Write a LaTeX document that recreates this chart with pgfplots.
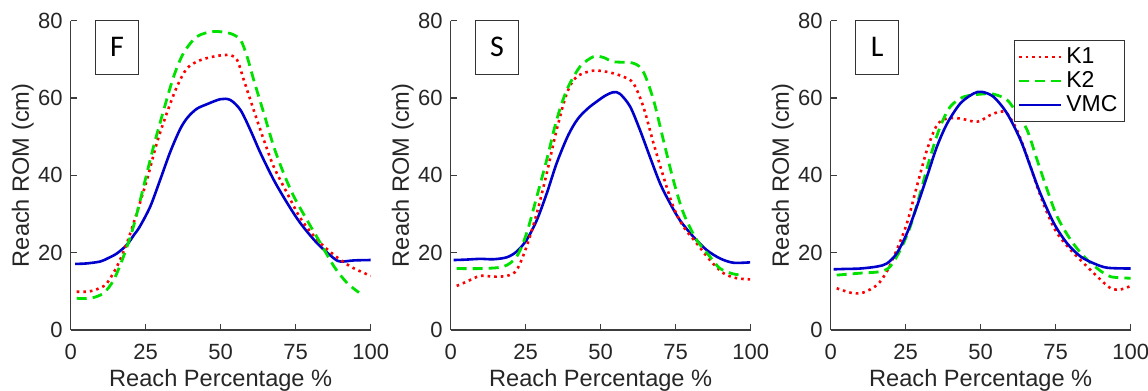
\documentclass[border=0pt]{standalone}
\usepackage{pgfplots}
\pgfplotsset{compat=1.18}
\usepackage{fontspec}
\setmainfont{Liberation Sans}
\newfontfamily\calfont{Carlito}
\definecolor{mred}{RGB}{255,0,0}
\definecolor{mgreen}{RGB}{0,225,0}
\definecolor{mblue}{RGB}{0,0,205}
\definecolor{axgray}{RGB}{60,60,60}
\pgfplotsset{
  panel/.style={
    scale only axis, width=150pt, height=154.65pt,
    anchor=south west,
    xmin=0, xmax=100, ymin=0, ymax=80,
    xtick={0,25,50,75,100}, ytick={0,20,40,60,80},
    axis x line*=bottom, axis y line*=left,
    axis line style={-, axgray, line width=0.6pt},
    tick style={axgray, line width=0.6pt},
    tick align=inside, major tick length=3pt,
    tick label style={font=\fontsize{11}{13}\selectfont, text=black!85},
    /pgf/number format/assume math mode=true,
    xticklabel style={yshift=-3.5pt},
    yticklabel style={xshift=-0.5pt},
    xlabel={Reach Percentage \%}, ylabel={Reach ROM (cm)},
    label style={font=\fontsize{11.8}{13}\selectfont, text=black!85},
    xlabel style={at={(axis description cs:0.5,-0.163)}, anchor=center},
    ylabel style={at={(axis description cs:-0.16,0.5)}, anchor=center, rotate=0},
    clip=false,
  },
  k1/.style={mred, line width=1.3pt, dotted, smooth, tension=0.5},
  k2/.style={mgreen, line width=1.4pt, dash pattern=on 5pt off 3pt, smooth, tension=0.5},
  vmc/.style={mblue, line width=1.3pt, smooth, tension=0.5},
}
\newcommand{\panellabel}[1]{\node[draw=black!80, line width=0.6pt, anchor=north west, minimum width=21.5pt, minimum height=27pt, inner sep=0pt, font=\calfont\fontsize{15}{17}\selectfont] at (axis cs:8.1,80.3) {#1};}
\begin{document}
\begin{tikzpicture}
\path[use as bounding box] (0,0) rectangle (574pt,195.5pt);
% ---------- F ----------
\begin{axis}[panel, at={(35.35pt,30.5pt)}]
\addplot[vmc] coordinates {(1.5,17.1)(5,17.2)(9.8,17.7)(12.5,18.6)(15.4,19.8)(18.7,22)(21,24.5)(23,26.7)(26.5,31.9)(29.8,38.8)(33.2,46.1)(36.5,52.0)(39,55.0)(42,57.2)(45.4,58.4)(49.9,59.7)(53.2,59.5)(56.6,56.9)(59.9,51.7)(63.3,45.7)(67.7,38.8)(72.2,32.8)(76.6,27.6)(82.2,22.4)(87.8,18.5)(90,17.7)(94.4,18.0)(100,18.1)};
\addplot[k1] coordinates {(2,9.9)(5,9.9)(7.6,10.2)(10,11)(12,12)(15.4,16.4)(18.7,22.4)(22,30.2)(25.4,38.8)(28.7,48.3)(32,56)(35.4,62.9)(38.8,67.7)(43.2,69.8)(48.8,70.9)(53.2,71.1)(55.5,69.8)(57.7,64.7)(61,56.9)(64.4,49.1)(67.7,42.2)(72.2,35.3)(76.6,28.9)(82.2,23.3)(87.8,19.4)(93.3,16.4)(100,14.0)};
\addplot[k2] coordinates {(2,8.2)(6.5,8.2)(10.9,9.5)(14.3,12.9)(17.6,19)(20.9,26.7)(24.3,37.1)(27.6,47.4)(31,56.9)(34.3,65.5)(37.6,71.6)(42.1,75.9)(47.7,77.2)(53.2,76.7)(56.6,75)(58.8,70.7)(61,64.7)(64.4,56)(67.7,47.4)(71,40.5)(74.4,34.5)(78.8,28.4)(83.3,22.4)(87.8,16.4)(92.2,12.1)(96.1,9.7)};
\panellabel{F}
\end{axis}
% ---------- S ----------
\begin{axis}[panel, at={(225.35pt,30.5pt)}]
\addplot[vmc] coordinates {(1,18.1)(5,18.2)(9.8,18.4)(14.2,18.3)(18.7,18.8)(22,20.3)(25.3,23.3)(28.7,28.4)(32,35.3)(35.3,43.1)(38.7,49.6)(41,53)(43.1,55.3)(46,57.5)(48.7,59.1)(51.5,60.6)(54.2,61.5)(56.4,61.1)(59.8,57.8)(63.1,51.7)(66.4,44.8)(69.8,37.9)(73.1,32.8)(76.4,28.4)(80.9,24.1)(85.3,20.7)(89.8,18.5)(94.2,17.4)(99.8,17.5)};
\addplot[k1] coordinates {(2,11.4)(5.3,12.5)(9.8,14)(14.2,13.8)(18.7,14)(22,15.5)(25.3,21.6)(28.7,30.2)(32,40.5)(35.3,51.7)(38.7,61.2)(42,65.5)(47.6,67.1)(53.1,66.6)(57.6,65.5)(60.9,63.8)(64.2,57.8)(67.6,48.3)(70.9,39.7)(74.2,31.9)(77.6,26.7)(82,22.4)(86.4,18.1)(90.9,14.7)(95.3,13.4)(99.8,13.1)};
\addplot[k2] coordinates {(2,15.9)(9.8,15.9)(17.6,16.4)(22,19)(25.3,25)(28.7,34.5)(32,44)(35.3,54.3)(38.7,62.1)(43.1,68.1)(47.6,70.7)(50.9,70.5)(54.2,69.4)(60.9,69)(64.2,66.8)(67.6,59.5)(70.9,49.1)(74.2,38.8)(77.6,30.2)(82,23.3)(86.4,19)(89.8,15.9)(94.2,14.5)(97.6,14.2)};
\panellabel{S}
\end{axis}
% ---------- L ----------
\begin{axis}[panel, at={(415.35pt,30.5pt)},
  legend style={at={(axis cs:61.1,75)}, anchor=north west, draw=black!80, line width=0.5pt,
    font=\fontsize{11.5}{12}\selectfont, inner sep=1.5pt, row sep=-1.5pt,
    cells={anchor=west}},
  legend image code/.code={\draw[#1] (0pt,0pt) -- (21pt,0pt);},
  legend cell align=left]
\addplot[k1] coordinates {(2,10.8)(4.2,10.2)(7.6,9.5)(10.9,9.7)(15.4,11.6)(18.7,15.1)(22,20.7)(25.4,27.6)(28.7,37.1)(32.1,46.6)(35.4,53)(38.8,54.7)(43.2,54.7)(47.7,53.9)(49.9,54.1)(53.2,55.6)(56.6,56.5)(58.8,56)(62.1,51.7)(65.5,44.8)(68.8,37.1)(72.2,30.2)(75.5,25)(80,20.7)(84.4,17.2)(88.9,13.8)(93.3,10.8)(96.7,10.5)(100,11.4)};
\addlegendentry{K1}
\addplot[k2] coordinates {(2,14.2)(9.8,14.7)(16.5,15.1)(19.8,16.4)(23.2,20.7)(26.5,26.7)(29.8,35.3)(33.2,44.8)(36.5,52.6)(39.9,57.8)(44.3,60.3)(49.9,61)(54.3,61)(58.8,59.5)(62.1,56)(65.5,51.7)(68.8,44)(72.2,36.2)(75.5,29.3)(80,23.3)(84.4,19)(88.9,15.9)(93.3,13.8)(100,13.4)};
\addlegendentry{K2}
\addplot[vmc] coordinates {(1,15.7)(5,15.8)(9.8,15.9)(15.4,16.4)(18.7,17.2)(22,19.8)(25.4,25)(28.7,31.9)(32.1,39.7)(35.4,47.4)(38.8,53.4)(43.2,58.6)(47.7,61.2)(50.4,61.6)(54.3,60.3)(58.8,56)(63.3,49.1)(66.6,42.2)(69.9,35.3)(74.4,27.6)(78.8,22.4)(83.3,19)(87.8,17.2)(92.2,16.1)(100,15.9)};
\addlegendentry{VMC}
\panellabel{L}
\end{axis}
\end{tikzpicture}
\end{document}
